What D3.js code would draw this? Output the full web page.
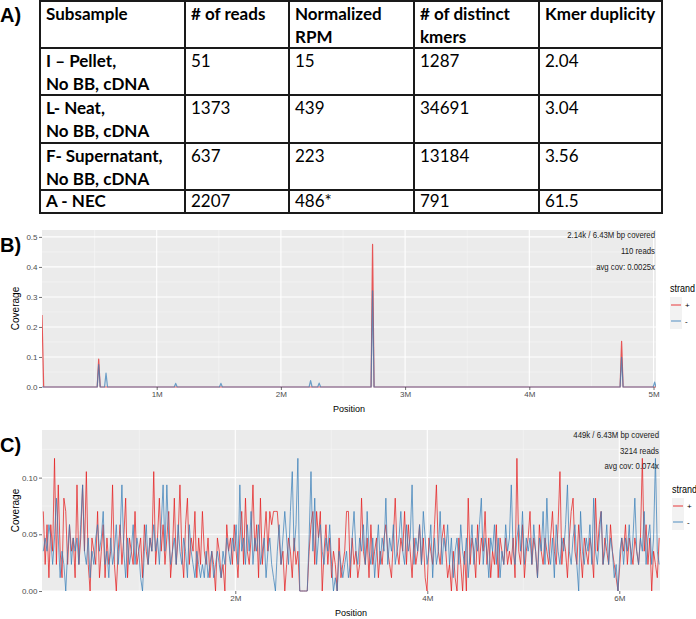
<!DOCTYPE html>
<html>
<head>
<meta charset="utf-8">
<script src="https://cdn.jsdelivr.net/npm/d3@7"></script>
<style>
  html, body { margin: 0; padding: 0; background: #fff; }
  svg { display: block; }
</style>
</head>
<body>
<svg id="chart" width="696" height="619"></svg>
<script>
// ---------------- DATA ----------------
// Panel A table
const tableHeaders = [["Subsample"], ["# of reads"], ["Normalized", "RPM"], ["# of distinct", "kmers"], ["Kmer duplicity"]];
const subsamples = [["I \u2013 Pellet,", "No BB, cDNA"], ["L- Neat,", "No BB, cDNA"], ["F- Supernatant,", "No BB, cDNA"], ["A - NEC"]];
const numReads = ["51", "1373", "637", "2207"];
const normalizedRPM = ["15", "439", "223", "486*"];
const distinctKmers = ["1287", "34691", "13184", "791"];
const kmerDuplicity = ["2.04", "3.04", "3.56", "61.5"];

// Panel B: coverage (sparse, positions in bp)
const bPlusPos = [76500, 90000, 521000, 533000, 545000, 2726000, 2738000, 2750000, 4731000, 4743000, 4755000, 5020000];
const bPlusCov = [0.24, 0, 0, 0.093, 0, 0, 0.475, 0, 0, 0.152, 0, 0];
const bMinusPos = [76500, 521000, 533000, 545000, 580000, 592000, 604000, 1141000, 1153000, 1165000, 1505000, 1517000, 1529000,
                   2227000, 2239000, 2251000, 2296000, 2308000, 2320000, 2726000, 2738000, 2750000, 4731000, 4743000, 4755000, 4997000, 5009000, 5020000];
const bMinusCov = [0, 0, 0.075, 0, 0, 0.046, 0, 0, 0.012, 0, 0, 0.012, 0,
                   0, 0.021, 0, 0, 0.013, 0, 0, 0.32, 0, 0, 0.099, 0, 0, 0.016, 0];
const bAnnotation = ["2.14k / 6.43M bp covered", "110 reads", "avg cov: 0.0025x"];
const bYTicks = [0, 0.1, 0.2, 0.3, 0.4, 0.5];
const bXTicks = [1e6, 2e6, 3e6, 4e6, 5e6];

// Panel C: binned read depth per strand (bin width 19.5 kb), coverage per read in bin
const cBinSize = 19500;
const cCoveragePerRead = 0.0117;
const cPlusDepth = [
  6,2,5,1,5,3,10,2,8,3, 1,7,6,2,5,3,4,1,8,2, 4,8,3,9,2,0,4,3,2,6, 1,3,5,1,4,2,3,8,2,0,
  3,5,2,4,7,1,4,3,2,6, 2,3,4,1,5,3,2,4,3,9, 2,4,7,3,5,2,4,6,1,3, 7,2,4,8,3,1,5,7,2,4,
  3,6,1,4,2,6,3,2,4,1, 3,2,0,4,3,1,2,0,5,3, 4,2,5,3,1,4,6,2,7,3, 2,4,8,3,5,1,7,2,4,6,
  3,6,5,6,6,6,4,2,3,0, 2,4,3,1,4,2,3,0,0,0, 0,0,3,5,6,2,6,4,6,0, 3,5,2,4,1,3,2,0,4,1,
  2,3,6,6,1,4,2,3,1,2, 7,3,2,4,1,5,2,3,4,1, 3,2,4,5,3,2,1,4,7,3, 2,4,3,6,2,5,3,1,4,2,
  3,5,2,4,1,0,4,3,2,5, 8,3,2,4,5,3,1,2,0,3, 1,0,4,2,0,3,0,7,2,4, 3,1,5,2,4,3,6,2,4,1,
  3,2,5,1,4,3,2,4,2,3, 2,4,1,10,3,2,5,1,3,4, 6,2,4,3,1,5,3,2,4,3, 2,4,6,3,2,5,9,2,4,3,
  1,4,6,7,3,2,5,3,1,4, 3,2,4,3,1,7,3,5,6,2, 4,3,2,5,3,2,1,0,2,4, 3,5,2,4,3,2,4,3,2,4,
  10,3,5,2,4,0,3,2,1,4
];
const cMinusDepth = [
  3,4,3,5,4,2,4,7,4,1, 3,2,0,3,5,2,4,3,4,2, 5,8,3,2,4,1,3,2,4,5, 3,4,6,2,3,1,4,2,3,5,
  2,4,8,3,1,4,2,3,5,2, 4,3,1,0,3,5,2,4,3,5, 3,4,2,5,8,3,8,4,2,3, 4,2,5,3,2,4,3,1,5,3,
  2,1,3,2,1,2,1,3,1,2, 3,1,2,3,2,1,3,2,4,3, 2,4,3,5,2,8,3,4,2,5, 3,6,2,4,3,5,2,3,4,1,
  3,4,2,1,0,3,5,2,4,6, 4,2,6,9,3,5,10,0,0,0, 0,0,4,9,3,7,2,4,5,3, 2,4,3,5,2,0,1,0,3,2,
  1,2,3,1,2,4,6,3,2,4, 3,5,2,6,3,2,4,1,3,5, 2,4,3,7,2,4,3,5,2,3, 4,6,3,2,5,3,4,8,2,4,
  3,5,2,6,4,2,3,5,1,4, 2,3,6,2,4,3,5,2,4,1, 3,4,2,5,3,2,4,1,3,5, 2,4,3,5,7,2,4,3,1,4,
  3,5,2,4,1,3,2,5,3,4, 8,3,2,4,5,3,6,2,4,3, 4,2,5,3,1,4,3,6,2,7, 3,2,4,1,5,3,2,4,3,5,
  8,3,2,4,5,2,0,6,3,2, 4,3,5,2,7,3,2,4,6,2, 3,5,2,4,3,1,2,0,3,4, 2,4,3,5,2,4,7,3,2,4,
  3,6,2,4,5,2,4,10,3,2
];
const cAnnotation = ["449k / 6.43M bp covered", "3214 reads", "avg cov: 0.074x"];
const cYTicks = [0, 0.05, 0.10];
const cXTicks = [2e6, 4e6, 6e6];

const strandLabels = ["+", "-"];
const strandColors = ["#E41A1C", "#377EB8"];

// ---------------- DRAW ----------------
const svg = d3.select("#chart");
const plotFont = "'Liberation Sans', Arial, sans-serif";

// Panel labels
svg.append("text").attr("x", 0).attr("y", 22).text("A)")
  .style("font", "bold 20px " + plotFont);

// ---- Table ----
const colX = [40, 185, 289, 414, 539, 662];
const rowY = [1, 48, 95, 143, 190, 213];
const table = svg.append("g");
const tFont = "Lato, 'Open Sans', sans-serif";
const rows = [tableHeaders].concat(subsamples.map((s, i) => [s, [numReads[i]], [normalizedRPM[i]], [distinctKmers[i]], [kmerDuplicity[i]]]));
rows.forEach((row, r) => {
  row.forEach((cell, c) => {
    cell.forEach((line, l) => {
      table.append("text")
        .attr("x", colX[c] + 6)
        .attr("y", rowY[r] + (r === 4 ? 17 : 19) + l * 23)
        .text(line)
        .style("font-family", tFont)
        .style("font-size", "17px")
        .style("font-weight", (r === 0 || c === 0) ? "700" : "400")
        .style("fill", "#000");
    });
  });
});
colX.forEach(x => table.append("line").attr("x1", x).attr("x2", x).attr("y1", rowY[0]).attr("y2", rowY[rowY.length - 1])
  .attr("stroke", "#1a1a1a").attr("stroke-width", 2));
rowY.forEach(y => table.append("line").attr("x1", colX[0] - 1).attr("x2", colX[colX.length - 1] + 1).attr("y1", y).attr("y2", y)
  .attr("stroke", "#1a1a1a").attr("stroke-width", 2));

// ---- Coverage panel helper ----
function coveragePanel(opt) {
  const g = svg.append("g");
  const x = d3.scaleLinear().domain(opt.xDomain).range([opt.left, opt.right]);
  const y = d3.scaleLinear().domain(opt.yDomain).range([opt.bottom, opt.top]);

  g.append("rect").attr("x", opt.left).attr("y", opt.top)
    .attr("width", opt.right - opt.left).attr("height", opt.bottom - opt.top).attr("fill", "#ebebeb");

  // minor grid
  opt.yMinor.forEach(v => g.append("line").attr("x1", opt.left).attr("x2", opt.right).attr("y1", y(v)).attr("y2", y(v))
    .attr("stroke", "#f7f7f7").attr("stroke-width", 0.6));
  opt.xMinor.forEach(v => g.append("line").attr("y1", opt.top).attr("y2", opt.bottom).attr("x1", x(v)).attr("x2", x(v))
    .attr("stroke", "#f7f7f7").attr("stroke-width", 0.6));
  // major grid
  opt.yTicks.forEach(v => g.append("line").attr("x1", opt.left).attr("x2", opt.right).attr("y1", y(v)).attr("y2", y(v))
    .attr("stroke", "#ffffff").attr("stroke-width", 1.1));
  opt.xTicks.forEach(v => g.append("line").attr("y1", opt.top).attr("y2", opt.bottom).attr("x1", x(v)).attr("x2", x(v))
    .attr("stroke", "#ffffff").attr("stroke-width", 1.1));

  // data lines
  const line = d3.line().x(d => x(d[0])).y(d => y(d[1]));
  const clipId = "clip" + opt.id;
  g.append("clipPath").attr("id", clipId).append("rect")
    .attr("x", opt.left).attr("y", opt.top - 1).attr("width", opt.right - opt.left).attr("height", opt.bottom - opt.top + 2);
  const lines = g.append("g").attr("clip-path", `url(#${clipId})`);
  opt.series.forEach((s, i) => {
    lines.append("path").datum(s).attr("d", line).attr("fill", "none")
      .attr("stroke", strandColors[i]).attr("stroke-opacity", 0.72).attr("stroke-width", opt.lineWidth)
      .attr("stroke-linejoin", "round");
  });

  // axes
  const yAxis = d3.axisLeft(y).tickValues(opt.yTicks).tickFormat(d3.format(opt.yFormat)).tickSize(3).tickPadding(1.5);
  const ya = g.append("g").attr("transform", `translate(${opt.left},0)`).call(yAxis);
  const xAxis = d3.axisBottom(x).tickValues(opt.xTicks).tickFormat(d => (d / 1e6) + "M").tickSize(3).tickPadding(1.5);
  const xa = g.append("g").attr("transform", `translate(0,${opt.bottom})`).call(xAxis);
  [ya, xa].forEach(a => {
    a.select(".domain").remove();
    a.selectAll(".tick line").attr("stroke", "#333").attr("stroke-width", 0.7);
    a.selectAll(".tick text").style("font-family", plotFont).style("font-size", "8px").attr("fill", "#4d4d4d");
  });

  // titles
  g.append("text").attr("transform", `translate(18.5,${(opt.top + opt.bottom) / 2}) rotate(-90)`)
    .attr("text-anchor", "middle").text("Coverage")
    .style("font-family", plotFont).style("font-size", "10px").attr("fill", "#000");
  g.append("text").attr("x", (opt.left + opt.right) / 2).attr("y", opt.bottom + 25)
    .attr("text-anchor", "middle").text("Position")
    .style("font-family", plotFont).style("font-size", "9px").attr("fill", "#000");

  // annotation
  opt.annotation.forEach((t, i) => {
    g.append("text").attr("transform", `translate(${opt.right - 1},${opt.annoY[i]}) scale(1,1.25)`)
      .attr("text-anchor", "end").text(t)
      .style("font-family", plotFont).style("font-size", "7.8px").attr("fill", "#1a1a1a");
  });

  // legend
  const lg = g.append("g");
  lg.append("text").attr("transform", `translate(${opt.legX},${opt.legY}) scale(1,1.2)`).text("strand")
    .style("font-family", plotFont).style("font-size", "9px").attr("fill", "#000");
  strandLabels.forEach((lab, i) => {
    const ky = opt.legY + 5 + i * 16;
    lg.append("rect").attr("x", opt.legX).attr("y", ky).attr("width", 12).attr("height", 16).attr("fill", "#f2f2f2");
    lg.append("line").attr("x1", opt.legX + 1).attr("x2", opt.legX + 11).attr("y1", ky + 8).attr("y2", ky + 8)
      .attr("stroke", strandColors[i]).attr("stroke-opacity", 0.72).attr("stroke-width", 1.2);
    lg.append("text").attr("x", opt.legX + 15).attr("y", ky + 11).text(lab)
      .style("font-family", plotFont).style("font-size", "8px").attr("fill", "#000");
  });
}

// Panel B
svg.append("text").attr("x", 0).attr("y", 252).text("B)").style("font", "bold 20px " + plotFont);
coveragePanel({
  id: "B",
  left: 42, right: 656, top: 230, bottom: 387,
  xDomain: [76500, 5020000], yDomain: [0, 0.523],
  yTicks: bYTicks, xTicks: bXTicks,
  yMinor: [0.05, 0.15, 0.25, 0.35, 0.45], xMinor: [0.5e6, 1.5e6, 2.5e6, 3.5e6, 4.5e6],
  yFormat: ".1f",
  series: [bPlusPos.map((p, i) => [p, bPlusCov[i]]), bMinusPos.map((p, i) => [p, bMinusCov[i]])],
  lineWidth: 1.2,
  annotation: bAnnotation, annoY: [238, 254, 270],
  legX: 670, legY: 292
});

// Panel C
svg.append("text").attr("x", 0).attr("y", 452).text("C)").style("font", "bold 20px " + plotFont);
coveragePanel({
  id: "C",
  left: 42, right: 660, top: 430, bottom: 591,
  xDomain: [-13500, 6424000], yDomain: [0, 0.142],
  yTicks: cYTicks, xTicks: cXTicks,
  yMinor: [0.025, 0.075, 0.125], xMinor: [1e6, 3e6, 5e6],
  yFormat: ".2f",
  series: [cPlusDepth.map((d, i) => [i * cBinSize, d * cCoveragePerRead]), cMinusDepth.map((d, i) => [i * cBinSize, d * cCoveragePerRead])],
  lineWidth: 1.0,
  annotation: cAnnotation, annoY: [438, 454, 469],
  legX: 672, legY: 493
});
</script>
</body>
</html>
